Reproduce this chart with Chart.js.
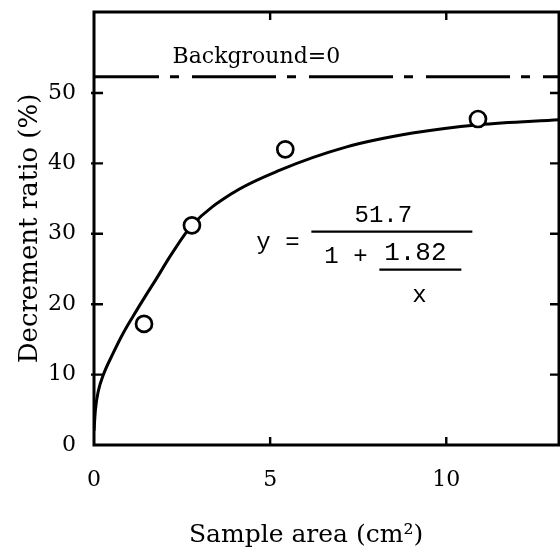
<!DOCTYPE html>
<html><head><meta charset="utf-8">
<script src="https://cdn.jsdelivr.net/npm/chart.js@4/dist/chart.umd.min.js"></script>
<style>html,body{margin:0;padding:0;background:#fff;}</style>
</head><body><canvas id="c" width="560" height="547"></canvas>
<script>
// ---- data ----
const sampleAreaPoints = [1.42, 2.78, 5.43, 10.9];
const decrementPoints = [17.2, 31.2, 42.0, 46.3];
const fitCurveX = [0, 0.04, 0.12, 0.26, 0.54, 0.82, 1.11, 1.49, 1.72, 2.2, 2.78, 3.94, 5.26, 7.15, 9.04, 10.93, 13.2];
const fitCurveY = [2.0, 5.0, 7.6, 9.9, 13.0, 15.8, 18.3, 21.4, 23.2, 27.1, 31.2, 35.8, 39.0, 42.3, 44.3, 45.5, 46.2];
const backgroundLevelX = [0, 13.2];
const backgroundLevelY = [52.3, 52.3];
const xTicks = [0, 5, 10];
const yTicks = [0, 10, 20, 30, 40, 50];
const xRange = [0, 13.2];
const yRange = [0, 61.5];
const xTitle = 'Sample area (cm²)';
const yTitle = 'Decrement ratio (%)';
const backgroundLabel = 'Background=0';

const zip = (xs, ys) => xs.map((x, i) => ({x, y: ys[i]}));

const framePlugin = {
  id: 'frame',
  afterDatasetsDraw(chart) {
    const {ctx, chartArea: a, scales: {x, y}} = chart;
    ctx.save();
    ctx.strokeStyle = '#000';
    ctx.lineWidth = 3;
    ctx.strokeRect(a.left, a.top, a.right - a.left, a.bottom - a.top);
    ctx.lineWidth = 2.4;
    const tl = 8;
    xTicks.filter(v => v > xRange[0]).forEach(v => {
      const px = x.getPixelForValue(v);
      ctx.beginPath();
      ctx.moveTo(px, a.bottom); ctx.lineTo(px, a.bottom - tl);
      ctx.moveTo(px, a.top); ctx.lineTo(px, a.top + tl);
      ctx.stroke();
    });
    yTicks.filter(v => v > yRange[0]).forEach(v => {
      const py = y.getPixelForValue(v);
      ctx.beginPath();
      ctx.moveTo(a.left - 3, py); ctx.lineTo(a.left + tl + 1, py);
      ctx.moveTo(a.right, py); ctx.lineTo(a.right - tl - 1, py);
      ctx.stroke();
    });
    // Background label
    ctx.fillStyle = '#000';
    ctx.font = '22px "DejaVu Serif"';
    ctx.textAlign = 'left';
    ctx.textBaseline = 'alphabetic';
    ctx.fillText(backgroundLabel, x.getPixelForValue(2.23), y.getPixelForValue(54.3));
    // Formula
    const ax = x.getPixelForValue(6.17), ay = y.getPixelForValue(30.3);
    ctx.font = '24px "Liberation Mono"';
    ctx.fillText('y =', ax - 55, ay + 17);
    ctx.fillText('1 +', ax + 13, ay + 31);
    ctx.textAlign = 'center';
    ctx.fillText('51.7', ax + 72, ay - 10);
    ctx.font = '26px "Liberation Mono"';
    ctx.fillText('1.82', ax + 104, ay + 28);
    ctx.font = '24px "Liberation Mono"';
    ctx.fillText('x', ax + 108, ay + 70);
    ctx.lineWidth = 2.4;
    ctx.beginPath();
    ctx.moveTo(ax, ay); ctx.lineTo(ax + 161, ay);
    ctx.moveTo(ax + 68, ay + 38); ctx.lineTo(ax + 150, ay + 38);
    ctx.stroke();
    // x-axis title (centred as in the reference, slightly left of the plot centre)
    ctx.font = '25px "DejaVu Serif"';
    ctx.textAlign = 'center';
    ctx.fillText(xTitle, x.getPixelForValue(6.02), 542);
    ctx.restore();
  }
};

new Chart(document.getElementById('c'), {
  type: 'scatter',
  data: {
    datasets: [
      {
        data: zip(sampleAreaPoints, decrementPoints),
        showLine: false,
        pointStyle: 'circle',
        pointRadius: 8,
        pointBorderWidth: 2.7,
        pointBorderColor: '#000',
        pointBackgroundColor: '#fff'
      },
      {
        data: zip(fitCurveX, fitCurveY),
        showLine: true,
        borderColor: '#000',
        borderWidth: 3,
        cubicInterpolationMode: 'monotone',
        pointRadius: 0,
        fill: false
      },
      {
        data: zip(backgroundLevelX, backgroundLevelY),
        showLine: true,
        borderColor: '#000',
        borderWidth: 2.8,
        borderDash: [84, 11, 9, 13],
        borderDashOffset: 19,
        pointRadius: 0,
        fill: false
      }
    ]
  },
  options: {
    responsive: false,
    animation: false,
    devicePixelRatio: 1,
    layout: {autoPadding: false, padding: {top: 12, right: 1, left: 0, bottom: 0}},
    plugins: {legend: {display: false}, tooltip: {enabled: false}},
    scales: {
      x: {
        type: 'linear', min: xRange[0], max: xRange[1],
        afterBuildTicks: s => { s.ticks = xTicks.map(v => ({value: v})); },
        afterFit: s => { s.height = 102; s.paddingLeft = 0; s.paddingRight = 0; },
        ticks: {color: '#000', font: {family: 'DejaVu Serif', size: 22}, padding: 22, maxRotation: 0, autoSkip: false},
        grid: {display: false, drawTicks: false},
        border: {display: false},
        title: {display: false}
      },
      y: {
        type: 'linear', min: yRange[0], max: yRange[1],
        afterBuildTicks: s => { s.ticks = yTicks.map(v => ({value: v})); },
        afterFit: s => { s.width = 94; s.paddingTop = 0; s.paddingBottom = 0; },
        ticks: {color: '#000', font: {family: 'DejaVu Serif', size: 22}, padding: 18, autoSkip: false},
        grid: {display: false, drawTicks: false},
        border: {display: false},
        title: {display: true, text: yTitle, color: '#000', font: {family: 'DejaVu Serif', size: 26, lineHeight: 1}, padding: {top: 17, bottom: 0}}
      }
    }
  },
  plugins: [framePlugin]
});
</script>
</body></html>
